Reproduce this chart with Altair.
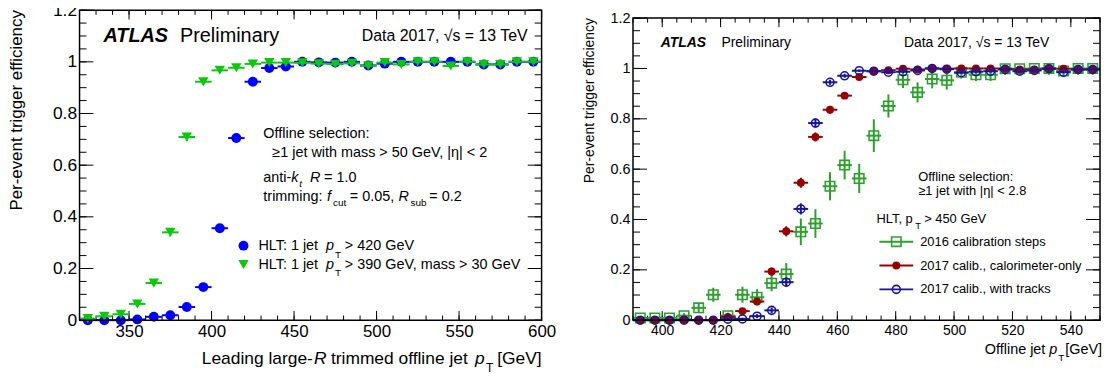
import altair as alt
import pandas as pd

# ---------------- data ----------------
# Left panel: large-R jet triggers, 10 GeV bins
left_x = [325, 335, 345, 355, 365, 375, 385, 395, 405, 415, 425, 435, 445, 455,
          465, 475, 485, 495, 505, 515, 525, 535, 545, 555, 565, 575, 585, 595]
left_blue = [0.0, 0.0, 0.0, 0.003, 0.013, 0.019, 0.051, 0.128, 0.356, 0.705, 0.923, 0.976, 0.982, 1.0,
             0.998, 0.997, 1.0, 0.986, 0.993, 1.0, 1.0, 1.0, 1.0, 1.0, 0.99, 0.99, 1.0, 1.0]
left_blue_err = [0.002, 0.002, 0.002, 0.003, 0.004, 0.005, 0.008, 0.012, 0.016, 0.016, 0.010, 0.006, 0.005, 0.003,
                 0.004, 0.004, 0.003, 0.006, 0.005, 0.003, 0.003, 0.003, 0.003, 0.003, 0.006, 0.006, 0.003, 0.003]
left_green = [0.006, 0.015, 0.023, 0.063, 0.144, 0.34, 0.709, 0.923, 0.967, 0.977, 0.992, 0.997, 0.997, 0.996,
              0.993, 0.991, 0.994, 0.985, 0.997, 0.99, 1.0, 1.0, 0.984, 1.0, 0.99, 0.99, 1.0, 1.0]
left_green_err = [0.003, 0.004, 0.005, 0.008, 0.012, 0.016, 0.016, 0.010, 0.007, 0.006, 0.004, 0.003, 0.003, 0.003,
                  0.004, 0.004, 0.004, 0.007, 0.004, 0.006, 0.003, 0.003, 0.010, 0.003, 0.006, 0.006, 0.003, 0.003]

# Right panel: single-jet trigger, 5 GeV bins
right_x = [392.5, 397.5, 402.5, 407.5, 412.5, 417.5, 422.5, 427.5, 432.5, 437.5, 442.5, 447.5, 452.5, 457.5,
           462.5, 467.5, 472.5, 477.5, 482.5, 487.5, 492.5, 497.5, 502.5, 507.5, 512.5, 517.5, 522.5, 527.5,
           532.5, 537.5, 542.5, 547.5]
right_green = [0.009, 0.009, 0.009, 0.018, 0.049, 0.101, 0.018, 0.101, 0.091, 0.147, 0.183, 0.351, 0.384, 0.532,
               0.616, 0.563, 0.733, 0.851, 0.955, 0.905, 0.958, 0.953, 0.985, 0.975, 0.975, 0.999, 0.999, 1.0,
               1.0, 0.99, 1.0, 1.0]
right_green_err = [0.005, 0.005, 0.005, 0.010, 0.020, 0.028, 0.012, 0.032, 0.032, 0.032, 0.044, 0.053, 0.057, 0.056,
                   0.057, 0.058, 0.065, 0.046, 0.033, 0.040, 0.037, 0.037, 0.025, 0.025, 0.025, 0.025, 0.025, 0.025,
                   0.025, 0.025, 0.025, 0.025]
right_red = [0.0, 0.0, 0.0, 0.002, 0.0, 0.0, 0.013, 0.036, 0.074, 0.193, 0.353, 0.546, 0.728, 0.836,
             0.892, 0.966, 0.989, 0.993, 0.999, 0.996, 1.0, 0.999, 1.0, 1.0, 1.0, 0.999, 0.996, 0.996,
             1.0, 0.999, 0.996, 0.996]
right_red_err = [0.002, 0.002, 0.002, 0.002, 0.002, 0.002, 0.005, 0.008, 0.011, 0.016, 0.020, 0.020, 0.018, 0.015,
                 0.012, 0.008, 0.005, 0.004, 0.003, 0.003, 0.002, 0.002, 0.002, 0.002, 0.002, 0.002, 0.002, 0.002,
                 0.002, 0.002, 0.002, 0.002]
right_blue = [0.0, 0.0, 0.0, 0.0, 0.0, 0.0, 0.004, 0.005, 0.016, 0.039, 0.151, 0.442, 0.783, 0.945,
              0.971, 0.991, 0.989, 0.985, 0.987, 0.992, 1.0, 0.997, 0.983, 0.987, 0.989, 0.996, 0.989, 0.992,
              0.999, 0.985, 0.996, 0.996]
right_blue_err = [0.002, 0.002, 0.002, 0.002, 0.002, 0.002, 0.004, 0.005, 0.008, 0.011, 0.018, 0.022, 0.018, 0.010,
                  0.008, 0.005, 0.005, 0.005, 0.005, 0.004, 0.002, 0.003, 0.005, 0.005, 0.005, 0.003, 0.005, 0.004,
                  0.002, 0.005, 0.003, 0.003]

left_xlabels = [350, 400, 450, 500, 550, 600]
right_xlabels = [400, 420, 440, 460, 480, 500, 520, 540]
y_labels = [0, 0.2, 0.4, 0.6, 0.8, 1.0, 1.2]

# ---------------- style ----------------
FONT = "Liberation Sans"
L_BLUE, L_GREEN = "#0000ff", "#0cc80c"
R_GREEN, R_RED, R_BLUE = "#2ca02c", "#990000", "#1414a0"
one = pd.DataFrame({"k": [0]})


def T(x, y, s, size, italic=False, bold=False, align="left", angle=0):
    kw = dict(text=s, fontSize=size, font=FONT, align=align, baseline="middle", color="black")
    if italic:
        kw["fontStyle"] = "italic"
    if bold:
        kw["fontWeight"] = "bold"
    if angle:
        kw["angle"] = angle
    return alt.Chart(one).mark_text(**kw).encode(x=alt.value(x), y=alt.value(y))


def errframe(xs, ys, half, err):
    d = pd.DataFrame({"x": xs, "y": ys, "e": err})
    d["xlo"] = d["x"] - half
    d["xhi"] = d["x"] + half
    d["ylo"] = d["y"] - d["e"]
    d["yhi"] = (d["y"] + d["e"]).clip(upper=1.0)
    return d


def panel(W, H, top, xdom, ydom, xmaj, xmin, ymaj, ymin, xlabels, lab_size, half,
          series, texts):
    xs = alt.Scale(domain=xdom, nice=False, zero=False)
    ys = alt.Scale(domain=ydom, nice=False, zero=False)
    xaxis = alt.Axis(values=xlabels, format="d", labelFontSize=lab_size, labelFont=FONT,
                     labelColor="black", labelPadding=3, labelFlush=False, labelOverlap=False,
                     domain=False, ticks=False, tickSize=0, grid=False, title=None)
    yaxis = alt.Axis(values=y_labels, format=".1~f", labelFontSize=lab_size + 0.5, labelFont=FONT,
                     labelColor="black", labelPadding=3, labelFlush=False, labelOverlap=False,
                     domain=False, ticks=False, tickSize=0, grid=False, title=None)
    X = lambda f: alt.X(f, type="quantitative", scale=xs, axis=xaxis)
    Y = lambda f: alt.Y(f, type="quantitative", scale=ys, axis=yaxis)

    layers = []
    # inward ticks on all four sides
    lx_maj, lx_min = 0.03 * (H - top), 0.015 * (H - top)
    ly_maj, ly_min = 0.03 * W, 0.015 * W
    for vals, L in ((xmaj, lx_maj), (xmin, lx_min)):
        d = pd.DataFrame({"v": vals})
        layers.append(alt.Chart(d).mark_rule(color="black", strokeWidth=1).encode(
            x=X("v"), y=alt.value(H), y2=alt.value(H - L)))
        layers.append(alt.Chart(d).mark_rule(color="black", strokeWidth=1).encode(
            x=X("v"), y=alt.value(top), y2=alt.value(top + L)))
    for vals, L in ((ymaj, ly_maj), (ymin, ly_min)):
        d = pd.DataFrame({"v": vals})
        layers.append(alt.Chart(d).mark_rule(color="black", strokeWidth=1).encode(
            y=Y("v"), x=alt.value(0), x2=alt.value(L)))
        layers.append(alt.Chart(d).mark_rule(color="black", strokeWidth=1).encode(
            y=Y("v"), x=alt.value(W), x2=alt.value(W - L)))

    # data series: horizontal bars, vertical bars, markers
    for xsv, ysv, err, color, shape, filled, size in series:
        d = errframe(xsv, ysv, half, err)
        base = alt.Chart(d)
        layers.append(base.mark_rule(color=color, strokeWidth=2).encode(
            x=X("xlo"), x2="xhi", y=Y("y")))
        layers.append(base.mark_rule(color=color, strokeWidth=2).encode(
            x=X("x"), y=Y("ylo"), y2="yhi"))
        pk = dict(shape=shape, filled=filled, size=size, color=color, opacity=1)
        if not filled:
            pk["strokeWidth"] = 1.6
        layers.append(base.mark_point(**pk).encode(x=X("x"), y=Y("y")))

    # frame
    layers.append(alt.Chart(one).mark_rect(fillOpacity=0, stroke="black", strokeWidth=1.5).encode(
        x=alt.X(datum=xdom[0], type="quantitative", scale=xs, axis=xaxis),
        x2=alt.X2(datum=xdom[1]),
        y=alt.Y(datum=0, type="quantitative", scale=ys, axis=yaxis),
        y2=alt.Y2(datum=1.2)))

    layers += texts
    return alt.layer(*layers).properties(width=W, height=H)


# ---------------- left panel ----------------
yminor = [round(i * 0.05, 2) for i in range(25)]
FS = 14.5
left_texts = [
    T(24, 26, "ATLAS", 20, italic=True, bold=True),
    T(101, 26, "Preliminary", 20),
    T(451, 26, "Data 2017, √s = 13 TeV", 16, align="right"),
    T(185, 125, "Offline selection:", FS),
    T(194, 144, "≥1 jet with mass > 50 GeV, |η| < 2", FS),
    T(185, 169, "anti-", FS), T(213, 169, "k", FS, italic=True), T(221, 175, "t", 10, italic=True),
    T(232, 169, "R", FS, italic=True), T(246, 169, "= 1.0", FS),
    T(185, 188, "trimming:", FS), T(249, 188, "f", FS, italic=True), T(255, 194, "cut", 10),
    T(272, 188, "= 0.05,", FS), T(321, 188, "R", FS, italic=True), T(333, 194, "sub", 10),
    T(352, 188, "= 0.2", FS),
    alt.Chart(one).mark_point(shape="circle", filled=True, size=100, color=L_BLUE, opacity=1).encode(
        x=alt.value(165), y=alt.value(237)),
    T(180, 237, "HLT: 1 jet", FS), T(248, 237, "p", FS, italic=True), T(257, 246, "T", 10),
    T(267, 237, "> 420 GeV", FS),
    alt.Chart(one).mark_point(shape="triangle-down", filled=True, size=110, color=L_GREEN, opacity=1).encode(
        x=alt.value(165), y=alt.value(256)),
    T(180, 256, "HLT: 1 jet", FS), T(248, 256, "p", FS, italic=True), T(257, 265, "T", 10),
    T(267, 256, "> 390 GeV, mass > 30 GeV", FS),
    # axis titles
    T(-62.5, 0, "Per-event trigger efficiency", 17, align="right", angle=270),
    T(123, 351, "Leading large-", 17.5), T(236, 351, "R", 17.5, italic=True),
    T(253, 351, "trimmed offline jet", 17.5), T(398, 351, "p", 17.5, italic=True),
    T(409, 360, "T", 12), T(465, 351, "[GeV]", 17.5, align="right"),
]
left = panel(465, 312, 0, [320, 600], [0, 1.2],
             left_xlabels, list(range(320, 601, 10)), y_labels, yminor,
             left_xlabels, 17, 5,
             [(left_x, left_blue, left_blue_err, L_BLUE, "circle", True, 100),
              (left_x, left_green, left_green_err, L_GREEN, "triangle-down", True, 110)],
             left_texts)

# ---------------- right panel ----------------
def legend_row(y, color, shape, filled, size, label):
    pk = dict(shape=shape, filled=filled, size=size, color=color, opacity=1)
    if not filled:
        pk["strokeWidth"] = 1.6
    return [
        alt.Chart(one).mark_rule(color=color, strokeWidth=2).encode(
            x=alt.value(248), x2=alt.value(282), y=alt.value(y)),
        alt.Chart(one).mark_point(**pk).encode(x=alt.value(265), y=alt.value(y)),
        T(289, y, label, 13),
    ]

right_texts = [
    T(28, 33, "ATLAS", 14, italic=True, bold=True),
    T(89, 33, "Preliminary", 14),
    T(419, 33, "Data 2017, √s = 13 TeV", 14, align="right"),
    T(287, 168, "Offline selection:", 13),
    T(287, 182, "≥1 jet with |η| < 2.8", 13),
    T(245, 210, "HLT, p", 13), T(284, 217, "T", 9.5), T(293, 210, "> 450 GeV", 13),
    *legend_row(233, R_GREEN, "square", False, 90, "2016 calibration steps"),
    *legend_row(257, R_RED, "circle", True, 64, "2017 calib., calorimeter-only"),
    *legend_row(281, R_BLUE, "circle", False, 64, "2017 calib., with tracks"),
    T(-43, 8, "Per-event trigger efficiency", 14, align="right", angle=270),
    T(415, 342, "Offline jet", 14.5, align="right"), T(419, 342, "p", 14.5, italic=True),
    T(428, 350, "T", 10), T(472, 342, "[GeV]", 14.5, align="right"),
]
right = panel(470, 312, 8, [390, 550], [0, 1.2 * 312 / 304],
              right_xlabels, list(range(390, 551, 5)), y_labels, yminor,
              right_xlabels, 14, 2.5,
              [(right_x, right_green, right_green_err, R_GREEN, "square", False, 90),
               (right_x, right_red, right_red_err, R_RED, "circle", True, 64),
               (right_x, right_blue, right_blue_err, R_BLUE, "circle", False, 64)],
              right_texts)

chart = alt.hconcat(left, right, spacing=92, bounds="flush").properties(
    padding={"left": 0, "top": -8, "right": 0, "bottom": 0}
).configure_view(strokeOpacity=0)

chart.save("out.html", embed_options={"renderer": "svg", "actions": False})
